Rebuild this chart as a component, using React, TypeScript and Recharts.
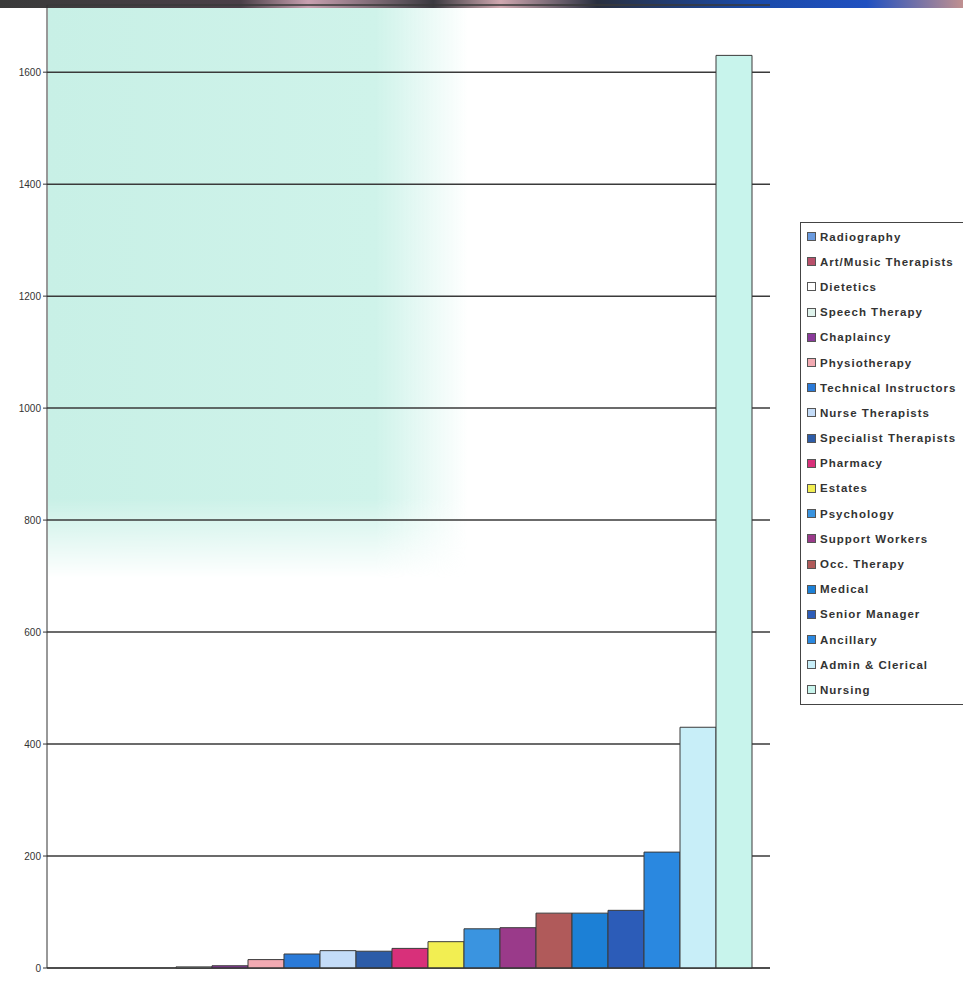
import React from 'react'
import { BarChart, Bar, XAxis, YAxis, CartesianGrid } from 'recharts'

// one category, one bar per staff group (Excel-style clustered series)
const GROUPS = [
  'Radiography', 'Art/Music Therapists', 'Dietetics', 'Speech Therapy', 'Chaplaincy',
  'Physiotherapy', 'Technical Instructors', 'Nurse Therapists', 'Specialist Therapists',
  'Pharmacy', 'Estates', 'Psychology', 'Support Workers', 'Occ. Therapy', 'Medical',
  'Senior Manager', 'Ancillary', 'Admin & Clerical', 'Nursing',
]
const COUNTS = [0, 0, 0, 2, 4, 15, 25, 31, 30, 35, 47, 70, 72, 98, 98, 103, 207, 430, 1630]
const COLORS = [
  '#6a9be0', '#b8506a', '#ffffff', '#dff3ec', '#8a3a9a', '#f2aab2', '#2a7ad8', '#c4dcf8',
  '#2d5ca8', '#d8307a', '#f2ee52', '#3a94e0', '#9a3a8a', '#b05a5a', '#1c80d6', '#2c5cb8',
  '#2a88e0', '#c8eef8', '#c8f4ec',
]
const Y_TICKS = [0, 200, 400, 600, 800, 1000, 1200, 1400, 1600]

const row: Record<string, number | string> = { cat: '' }
GROUPS.forEach((g, i) => { row[g] = COUNTS[i] })
const data = [row]

function LegendBox() {
  return (
    <div style={{
      position: 'absolute', left: 800, top: 222, width: 200,
      border: '1.5px solid #444', background: '#fff', padding: '1px 0 1px 6px',
      fontFamily: 'Liberation Sans, Arial, sans-serif', fontSize: 11.5, fontWeight: 'bold',
      letterSpacing: 1, color: '#333',
    }}>
      {GROUPS.map((g, i) => (
        <div key={g} style={{ display: 'flex', alignItems: 'center', height: 25.2, whiteSpace: 'nowrap' }}>
          <span style={{
            width: 7, height: 7, background: COLORS[i], border: '1px solid #555',
            display: 'inline-block', marginRight: 4, flexShrink: 0,
          }} />
          {g}
        </div>
      ))}
    </div>
  )
}

export default function App() {
  return (
    <div style={{ position: 'absolute', left: 0, top: 0, width: 963, height: 994, background: '#fff', overflow: 'hidden' }}>
      {/* scan artefacts: dark strip at top and the teal wash behind the upper left */}
      <div style={{
        position: 'absolute', left: 0, top: 0, width: 963, height: 8,
        background: 'linear-gradient(to right, #3a3a3a 0%, #4a4048 25%, #c8a0b0 32%, #3a3a40 45%, #d0a8b0 52%, #2a3040 62%, #1a4aa8 78%, #2050c0 90%, #c09090 100%)',
      }} />
      <div style={{
        position: 'absolute', left: 48, top: 8, width: 420, height: 570,
        background: 'linear-gradient(to right, #c8f0e6 0%, #cff3ea 78%, rgba(255,255,255,0) 100%)',
        WebkitMaskImage: 'linear-gradient(to bottom, #000 86%, transparent 100%)',
        maskImage: 'linear-gradient(to bottom, #000 86%, transparent 100%)',
      }} />
      <BarChart
        width={963} height={994} data={data}
        margin={{ top: 5, right: 193, bottom: 6, left: 0 }}
        barCategoryGap={21} barGap={0}
        style={{ position: 'absolute', left: 0, top: 0 }}
      >
        <CartesianGrid horizontal vertical={false} stroke="#3a3a3a" strokeWidth={1.5} />
        <XAxis dataKey="cat" height={20} stroke="#333" tickLine={false} tick={false} />
        <YAxis
          domain={[0, 1720]} ticks={Y_TICKS} width={47} stroke="#333"
          tickSize={4} tick={{ fontSize: 10, fill: '#333', fontFamily: 'Liberation Sans, Arial, sans-serif' }}
        />
        {GROUPS.map((g, i) => (
          <Bar key={g} dataKey={g} fill={COLORS[i]} stroke="#3a3a3a" strokeWidth={1} isAnimationActive={false} />
        ))}
      </BarChart>
      <LegendBox />
    </div>
  )
}
